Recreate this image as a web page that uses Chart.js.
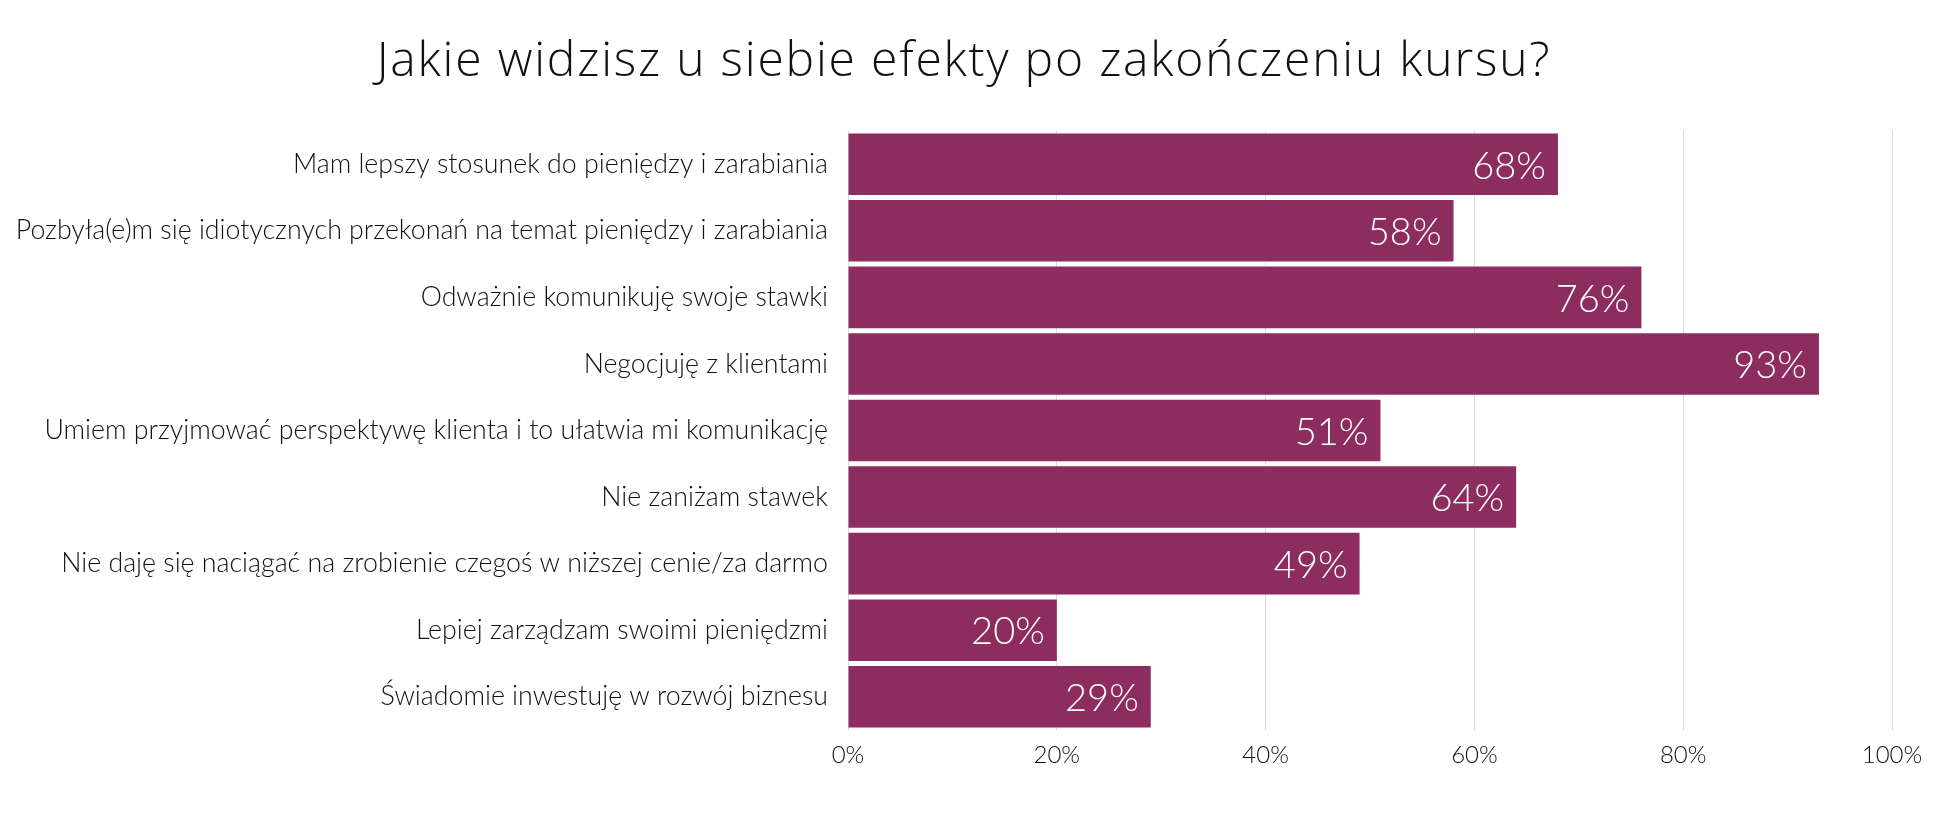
<!DOCTYPE html>
<html>
<head>
<meta charset="utf-8">
<script src="https://cdn.jsdelivr.net/npm/chart.js@4"></script>
<style>
	html, body { margin: 0; padding: 0; background: #fff; }
	#wrap { width: 1960px; height: 829px; }
</style>
</head>
<body>
<div id="wrap"><canvas id="effectsChart"></canvas></div>
<script>
const categories = [
	"Mam lepszy stosunek do pieniędzy i zarabiania",
	"Pozbyła(e)m się idiotycznych przekonań na temat pieniędzy i zarabiania",
	"Odważnie komunikuję swoje stawki",
	"Negocjuję z klientami",
	"Umiem przyjmować perspektywę klienta i to ułatwia mi komunikację",
	"Nie zaniżam stawek",
	"Nie daję się naciągać na zrobienie czegoś w niższej cenie/za darmo",
	"Lepiej zarządzam swoimi pieniędzmi",
	"Świadomie inwestuję w rozwój biznesu",
];
const percentValues = [68, 58, 76, 93, 51, 64, 49, 20, 29];
const xTickValues = [0, 20, 40, 60, 80, 100];
const chartTitle = "Jakie widzisz u siebie efekty po zakończeniu kursu?";

// white value labels drawn at the inner end of each bar
const barValueLabels = {
	id: "barValueLabels",
	afterDatasetsDraw(chart) {
		const ctx = chart.ctx;
		const meta = chart.getDatasetMeta(0);
		ctx.save();
		ctx.fillStyle = "#ffffff";
		ctx.font = "300 38px Lato";
		ctx.textAlign = "right";
		ctx.textBaseline = "middle";
		meta.data.forEach(function (bar, i) {
			ctx.fillText(percentValues[i] + "%", bar.x - 12, bar.y + 2);
		});
		ctx.restore();
	},
};

// title drawn by hand so it can be letter-spaced like the original
const spacedTitle = {
	id: "spacedTitle",
	afterDraw(chart) {
		const ctx = chart.ctx;
		ctx.save();
		ctx.fillStyle = "#111111";
		ctx.font = "300 48px 'Open Sans'";
		ctx.letterSpacing = "1.8px";
		ctx.textAlign = "center";
		ctx.textBaseline = "alphabetic";
		ctx.fillText(chartTitle, chart.width / 2 - 16, 76);
		ctx.restore();
	},
};

document.addEventListener("DOMContentLoaded", function () {
	const canvas = document.getElementById("effectsChart");

	new Chart(canvas, {
		type: "bar",
		data: {
			labels: categories,
			datasets: [
				{
					data: percentValues,
					backgroundColor: "#8d2c5e",
					borderWidth: 0,
					barPercentage: 0.925,
					categoryPercentage: 1,
				},
			],
		},
		options: {
			indexAxis: "y",
			responsive: true,
			maintainAspectRatio: false,
			animation: false,
			layout: {
				padding: { left: 0, right: 68, top: 131, bottom: 0 },
			},
			scales: {
				x: {
					min: 0,
					max: 100,
					afterBuildTicks: function (scale) {
						scale.ticks = xTickValues.map((v) => ({ value: v }));
					},
					afterFit: function (scale) {
						scale.height = 99;
					},
					ticks: {
						color: "#111111",
						font: { family: "Lato", size: 24, weight: "300" },
						padding: 11,
						callback: (v) => v + "%",
					},
					grid: { color: "#dcdcdc", lineWidth: 1, drawTicks: false },
					border: { display: false },
				},
				y: {
					afterFit: function (scale) {
						scale.width = 848;
					},
					ticks: {
						color: "#111111",
						font: { family: "Lato", size: 26.75, weight: "300" },
						padding: 20,
					},
					grid: { display: false, drawTicks: false },
					border: { display: false },
				},
			},
			plugins: {
				legend: { display: false },
				tooltip: { enabled: false },
				title: { display: false },
			},
		},
		plugins: [barValueLabels, spacedTitle],
	});
});
</script>
</body>
</html>
